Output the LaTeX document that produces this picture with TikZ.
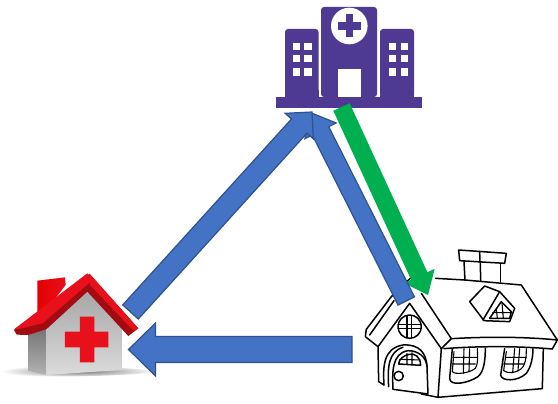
\documentclass[tikz,border=0pt]{standalone}
\usetikzlibrary{calc}
\definecolor{hosp}{HTML}{4F3A93}
\definecolor{arrowblue}{HTML}{4472C4}
\definecolor{arrowedge}{HTML}{2F528F}
\definecolor{arrowgreen}{HTML}{00B050}
\definecolor{roofred}{HTML}{E8101A}
\tikzset{
  hospfill/.style={fill=hosp,draw=none},
  hospcut/.style={fill=white,draw=none},
  sketch/.style={draw=black,line width=1.5pt,line join=round,line cap=round},
  thinsketch/.style={draw=black,line width=1.1pt,line join=round,line cap=round},
  bluearrow/.style={fill=arrowblue,draw=arrowedge,line width=1.2pt,line join=miter},
  greenarrow/.style={fill=arrowgreen,draw=none}
}
% tail, tip, half shaft width, head length, half head width
\newcommand{\blockarrow}[6]{%
  \coordinate (neck) at ($(#2)!#4pt!(#1)$);
  \path[#6] ($(#1)!#3pt!90:(#2)$) -- ($(neck)!#3pt!-90:(#1)$)
    -- ($(neck)!#5pt!-90:(#1)$) -- (#2)
    -- ($(neck)!#5pt!90:(#1)$) -- ($(neck)!#3pt!90:(#1)$)
    -- ($(#1)!#3pt!-90:(#2)$) -- cycle;
}
\begin{document}
\begin{tikzpicture}[x=1pt,y=-1pt]
\useasboundingbox (0,0) rectangle (558,404);
\fill[white] (0,0) rectangle (558,404);

% ---------- hospital ----------
\fill[hospfill] (276,97) rectangle (422,108);
\fill[hospfill,rounded corners=3pt] (321,97) -- (321,7) -- (377,7) -- (377,97) -- cycle;
\fill[hospfill,rounded corners=3pt] (285,97) -- (285,29) -- (318.5,29) -- (318.5,97) -- cycle;
\fill[hospfill,rounded corners=3pt] (380,97) -- (380,29) -- (414,29) -- (414,97) -- cycle;
\fill[hospfill] (285,90) rectangle (318.5,98);
\fill[hospfill] (380,90) rectangle (414,98);
\fill[hospcut] (349.3,26) circle (18.3);
\fill[hospfill] (345.5,14.5) rectangle (353,37.5);
\fill[hospfill] (338,22.2) rectangle (361,29.8);
\fill[hospcut] (338.3,69.3) rectangle (360.7,96.7);
\foreach \wy in {42.7,55,68.3}{
  \foreach \wx in {292.7,304.3,389,400.7}{
    \fill[hospcut] (\wx,\wy) rectangle +(7.4,7.5);
  }
}

% ---------- red-cross house (coordinates read at 3x) ----------
\begin{scope}[shift={(0,260)},x=0.3333pt,y=-0.3333pt]
  \shade[inner color=black!55,outer color=white] (0,325) .. controls (60,318) and (380,315) .. (470,335)
     .. controls (380,352) and (60,352) .. (0,345) -- cycle;
  \shade[top color=black!55,bottom color=black!30] (85,225) -- (150,200) -- (140,345) -- (85,332) -- cycle;
  \shade[top color=black!35,bottom color=black!14] (140,205) -- (262,92) -- (365,205) -- (365,330) -- (140,345) -- cycle;
  \shade[left color=red!90!black,right color=roofred] (112,62) -- (195,52) -- (197,75) -- (135,155) -- (112,170) -- cycle;
  \fill[roofred!70!black] (42,210) -- (268,42) -- (415,205) -- (385,228) -- (262,95) -- (140,207) -- (85,225) -- (50,224) -- cycle;
  \fill[roofred] (42,208) -- (262,40) -- (278,60) -- (128,190) -- (60,206) -- cycle;
  \fill[roofred] (268,40) -- (415,205) -- (400,212) -- (270,75) -- cycle;
  \fill[roofred] (240,170) -- (283,170) -- (283,215) -- (325,215) -- (325,262) -- (283,262)
     -- (283,307) -- (240,307) -- (240,262) -- (195,262) -- (195,215) -- (240,215) -- cycle;
\end{scope}

% ---------- sketched house (coordinates read at 3x) ----------
\begin{scope}[shift={(358,240)},x=0.3333pt,y=-0.3333pt]
  % chimney
  \path[sketch] (302,30) -- (445,40) -- (440,70) -- (305,62) -- cycle;
  \path[sketch] (365,35) -- (366,66);
  \path[sketch] (318,64) -- (321,120);
  \path[sketch] (428,70) -- (428,126);
  \path[sketch] (367,66) -- (368,123);
  % roof
  \path[sketch] (233,115) -- (320,120) -- (490,135) -- (598,300);
  \path[sketch] (598,300) .. controls (500,290) and (380,290) .. (282,296);
  \path[sketch] (598,300) -- (583,327);
  \path[sketch] (258,326) .. controls (360,318) and (480,318) .. (583,327);
  % gable
  \path[sketch] (25,268) -- (100,170) -- (160,112);
  \path[sketch] (35,285) -- (108,182);
  \path[sketch] (25,268) -- (22,290) -- (60,320);
  \path[sketch] (190,160) -- (280,296) -- (250,326);
  \path[sketch] (60,320) -- (155,190) -- (250,326);
  % walls
  \path[sketch] (60,320) -- (62,425) -- (78,435);
  \path[sketch] (190,462) -- (240,472) -- (553,446) -- (556,326);
  \path[sketch] (250,326) -- (240,472);
  % round window
  \path[sketch] (155,260) circle (35);
  \path[thinsketch] (147,226) -- (147,294) (161,226) -- (161,294) (120,253) -- (190,253) (120,266) -- (190,266);
  % door
  \path[sketch] (78,435) .. controls (75,380) and (75,325) .. (135,315) .. controls (185,312) and (205,340) .. (207,380) -- (210,462) -- (105,448) .. controls (103,400) and (100,340) .. (150,332);
  \path[sketch] (92,440) .. controls (88,380) and (92,335) .. (135,322);
  \path[sketch] (150,332) .. controls (180,332) and (205,350) .. (207,380);
  \path[sketch] (122,372) .. controls (122,345) and (185,320) .. (188,376) -- cycle;
  \path[thinsketch] (147,340) -- (147,372) (162,338) -- (162,374) (125,358) -- (186,360);
  \path[sketch] (122,408) circle (14);
  % right windows
  \path[sketch] (283,326) -- (275,415) .. controls (275,440) and (330,430) .. (360,410) .. controls (378,395) and (382,360) .. (382,325);
  \path[thinsketch] (288,335) -- (283,395) .. controls (290,405) and (335,400) .. (352,385) .. controls (362,370) and (358,340) .. (358,325);
  \path[thinsketch] (318,326) -- (316,400) (335,326) -- (333,395) (285,352) -- (358,352) (283,372) -- (352,372);
  \path[sketch] (440,326) -- (428,405) .. controls (430,425) and (480,425) .. (505,400) .. controls (520,380) and (525,350) .. (525,326);
  \path[thinsketch] (445,335) -- (437,392) .. controls (455,405) and (490,395) .. (498,375) .. controls (505,360) and (505,340) .. (505,326);
  \path[thinsketch] (470,326) -- (464,398) (485,326) -- (480,392) (442,352) -- (505,352) (437,372) -- (500,372);
  % dormer
  \path[sketch] (335,185) -- (380,138) -- (425,155) -- (470,205) -- (455,245) -- (378,242) -- cycle;
  \path[sketch] (425,155) -- (375,240);
  \path[sketch] (395,235) -- (430,185) -- (460,215) -- (455,235) -- cycle;
  \path[thinsketch] (415,205) -- (418,235) (432,188) -- (436,235) (404,218) -- (458,218);
\end{scope}

% ---------- connector ends ----------
\coordinate (homeT) at (130.5,312);
\coordinate (hospA) at (312,112);
\coordinate (houseT) at (406.3,301);
\coordinate (hospB) at (311.5,113);
\coordinate (hospG) at (341.5,107);
\coordinate (houseG) at (428,295);
\coordinate (houseL) at (352,349.5);
\coordinate (homeR) at (128.5,349.5);

% ---------- arrows ----------
\blockarrow{hospG}{houseG}{9}{21}{17}{greenarrow}
\blockarrow{houseT}{hospB}{9.2}{20}{17.5}{bluearrow}
\blockarrow{homeT}{hospA}{10.5}{19}{19}{bluearrow}
\blockarrow{houseL}{homeR}{13}{27}{26.5}{bluearrow}
\end{tikzpicture}
\end{document}
